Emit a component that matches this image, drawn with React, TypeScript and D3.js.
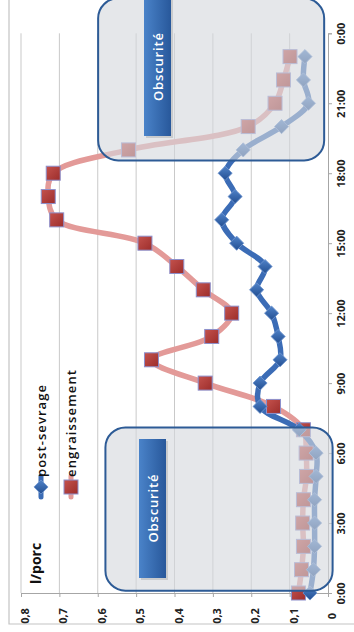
import React, { useEffect, useRef } from 'react';
import * as d3 from 'd3';

// hours of the day (0:00 .. 23:00)
const hours = [0, 1, 2, 3, 4, 5, 6, 7, 8, 9, 10, 11, 12, 13, 14, 15, 16, 17, 18, 19, 20, 21, 22, 23];
const postSevrage = [0.047, 0.038, 0.035, 0.035, 0.035, 0.031, 0.031, 0.075, 0.177, 0.177, 0.125, 0.13, 0.147, 0.186, 0.164, 0.238, 0.277, 0.242, 0.268, 0.221, 0.121, 0.051, 0.064, 0.06];
const engraissement = [0.077, 0.069, 0.064, 0.066, 0.064, 0.056, 0.057, 0.064, 0.142, 0.32, 0.46, 0.303, 0.251, 0.325, 0.394, 0.477, 0.707, 0.729, 0.716, 0.52, 0.208, 0.138, 0.116, 0.099];
const timeTicks = [0, 3, 6, 9, 12, 15, 18, 21, 24];
const valueTicks = [0, 0.1, 0.2, 0.3, 0.4, 0.5, 0.6, 0.7, 0.8];
// dark periods: [start hour, end hour, low value, high value]
const darkPeriods = [
    { h0: 0.1, h1: 7.1, v0: -0.012, v1: 0.58 },
    { h0: 18.55, h1: 25.5, v0: 0.01, v1: 0.599 },
];
const darkLabel = 'Obscurité';

const W = 354, H = 632;
const FONT = '"Open Sans", "DejaVu Sans", sans-serif';

export default function App() {
    const svgRef = useRef(null);

    useEffect(() => {
        const svg = d3.select(svgRef.current);
        svg.selectAll('*').remove();

        // chart is rotated: time runs bottom -> top, values run right -> left
        const yT = d3.scaleLinear().domain([0, 24]).range([593, 33.3]);
        const xV = d3.scaleLinear().domain([0, 0.8]).range([328, 21]);

        const defs = svg.append('defs');
        const lg = defs.append('linearGradient').attr('id', 'lab').attr('x1', 0).attr('x2', 1).attr('y1', 0).attr('y2', 0);
        lg.append('stop').attr('offset', '0%').attr('stop-color', '#4a83c9');
        lg.append('stop').attr('offset', '100%').attr('stop-color', '#28589b');
        const sq = defs.append('linearGradient').attr('id', 'sq').attr('x1', 0).attr('x2', 1).attr('y1', 0).attr('y2', 1);
        sq.append('stop').attr('offset', '0%').attr('stop-color', '#c4524d');
        sq.append('stop').attr('offset', '100%').attr('stop-color', '#9c2d2b');
        const dm = defs.append('linearGradient').attr('id', 'dm').attr('x1', 0).attr('x2', 1).attr('y1', 0).attr('y2', 1);
        dm.append('stop').attr('offset', '0%').attr('stop-color', '#4f82c8');
        dm.append('stop').attr('offset', '100%').attr('stop-color', '#234f92');

        // chart area border
        svg.append('path').attr('d', `M9,0 V624 H${W}`).attr('fill', 'none').attr('stroke', '#c4c4c4').attr('stroke-width', 1.2);

        // gridlines
        svg.append('g').selectAll('line').data(valueTicks.slice(1)).join('line')
            .attr('x1', d => xV(d)).attr('x2', d => xV(d))
            .attr('y1', yT(24)).attr('y2', yT(0))
            .attr('stroke', '#c9c9c9').attr('stroke-width', 1);

        // value axis (bottom)
        const ax = svg.append('g').attr('transform', `translate(0,${yT(0)})`)
            .call(d3.axisBottom(xV).tickValues(valueTicks).tickSize(4).tickFormat(d => String(d).replace('.', ',')));
        ax.select('.domain').attr('stroke', '#a6a6a6');
        ax.selectAll('.tick line').attr('stroke', '#a6a6a6');
        ax.selectAll('text').attr('y', null).attr('dy', null)
            .attr('transform', 'translate(3,23) rotate(-90)')
            .attr('text-anchor', 'middle').attr('dominant-baseline', 'central')
            .style('font-family', FONT).style('font-size', '11px').style('font-weight', 'bold').attr('fill', '#222');

        // time axis (right)
        const at = svg.append('g').attr('transform', `translate(${xV(0)},0)`)
            .call(d3.axisRight(yT).tickValues(timeTicks).tickSize(4).tickFormat(d => `${(+d) % 24}:00`));
        at.select('.domain').attr('stroke', '#a6a6a6');
        at.selectAll('.tick line').attr('stroke', '#a6a6a6');
        at.selectAll('text').attr('x', null).attr('dy', null)
            .attr('transform', 'translate(12,0) rotate(-90)')
            .attr('text-anchor', 'middle').attr('dominant-baseline', 'central')
            .style('font-family', FONT).style('font-size', '11px').style('font-weight', 'bold').attr('fill', '#222');

        // series
        const line = d3.line<number>().x(d => xV(d[1])).y(d => yT(d[0])).curve(d3.curveCatmullRom.alpha(0.5));
        const pinkPts = hours.map((h, i) => [h, engraissement[i]]);
        const bluePts = hours.map((h, i) => [h, postSevrage[i]]);

        svg.append('path').datum(pinkPts).attr('d', line as any)
            .attr('fill', 'none').attr('stroke', '#e39a98').attr('stroke-width', 5.5).attr('stroke-linejoin', 'round');
        svg.append('path').datum(bluePts).attr('d', line as any)
            .attr('fill', 'none').attr('stroke', '#3b6cb6').attr('stroke-width', 5.5).attr('stroke-linejoin', 'round');

        svg.append('g').selectAll('rect').data(pinkPts).join('rect')
            .attr('x', d => xV(d[1]) - 7).attr('y', d => yT(d[0]) - 7)
            .attr('width', 14).attr('height', 14)
            .attr('fill', 'url(#sq)').attr('stroke', '#8d90cc').attr('stroke-width', 1);
        svg.append('g').selectAll('rect').data(bluePts).join('rect')
            .attr('x', -5).attr('y', -5).attr('width', 10).attr('height', 10)
            .attr('transform', d => `translate(${xV(d[1])},${yT(d[0])}) rotate(45)`)
            .attr('fill', 'url(#dm)').attr('stroke', '#6f95cf').attr('stroke-width', 0.8);

        // dark period boxes
        darkPeriods.forEach(p => {
            const x0 = xV(p.v1), x1 = xV(p.v0), y0 = yT(p.h1), y1 = yT(p.h0);
            svg.append('rect').attr('x', x0).attr('y', y0).attr('width', x1 - x0).attr('height', y1 - y0)
                .attr('rx', 20).attr('ry', 20)
                .attr('fill', '#d5d8dd').attr('fill-opacity', 0.62)
                .attr('stroke', '#2d5b96').attr('stroke-width', 2);
        });

        // labels inside boxes
        const labels = [
            { x: 139, y: 439, w: 27, h: 139 },
            { x: 144, y: -2, w: 27, h: 138 },
        ];
        labels.forEach(l => {
            svg.append('rect').attr('x', l.x + 2).attr('y', l.y + 2).attr('width', l.w).attr('height', l.h)
                .attr('fill', '#000').attr('opacity', 0.12);
            svg.append('rect').attr('x', l.x).attr('y', l.y).attr('width', l.w).attr('height', l.h)
                .attr('fill', 'url(#lab)');
            svg.append('text')
                .attr('transform', `translate(${l.x + l.w / 2},${l.y + l.h / 2}) rotate(-90)`)
                .attr('text-anchor', 'middle').attr('dominant-baseline', 'central')
                .attr('textLength', 68).attr('lengthAdjust', 'spacing')
                .style('font-family', FONT).style('font-size', '13px').style('font-weight', 600)
                .attr('fill', '#fff').text(darkLabel);
        });

        // legend
        svg.append('text').attr('transform', 'translate(35,584) rotate(-90)')
            .attr('dominant-baseline', 'central')
            .style('font-family', FONT).style('font-size', '14px').style('font-weight', 'bold')
            .attr('fill', '#111').text('l/porc');

        const legend = [
            { name: 'post-sevrage', x: 41, color: '#3b6cb6', kind: 'diamond', len: 92 },
            { name: 'engraissement', x: 71, color: '#e39a98', kind: 'square', len: 107 },
        ];
        legend.forEach(l => {
            svg.append('line').attr('x1', l.x).attr('x2', l.x).attr('y1', 476).attr('y2', 497)
                .attr('stroke', l.color).attr('stroke-width', 5).attr('stroke-linecap', 'round');
            if (l.kind === 'diamond') {
                svg.append('rect').attr('x', -5).attr('y', -5).attr('width', 10).attr('height', 10)
                    .attr('transform', `translate(${l.x},487) rotate(45)`)
                    .attr('fill', 'url(#dm)').attr('stroke', '#6f95cf').attr('stroke-width', 0.8);
            } else {
                svg.append('rect').attr('x', l.x - 7).attr('y', 480).attr('width', 14).attr('height', 14)
                    .attr('fill', 'url(#sq)').attr('stroke', '#8d90cc').attr('stroke-width', 1);
            }
            svg.append('text').attr('transform', `translate(${l.x},${477}) rotate(-90)`)
                .attr('dominant-baseline', 'central')
                .attr('textLength', l.len).attr('lengthAdjust', 'spacing')
                .style('font-family', FONT).style('font-size', '13px').style('font-weight', 600)
                .attr('fill', '#111').text(l.name);
        });
    }, []);

    return (
        <div style={{ position: 'fixed', left: 0, top: 0, width: W, height: H, background: '#fff' }}>
            <svg ref={svgRef} width={W} height={H}></svg>
        </div>
    );
}
